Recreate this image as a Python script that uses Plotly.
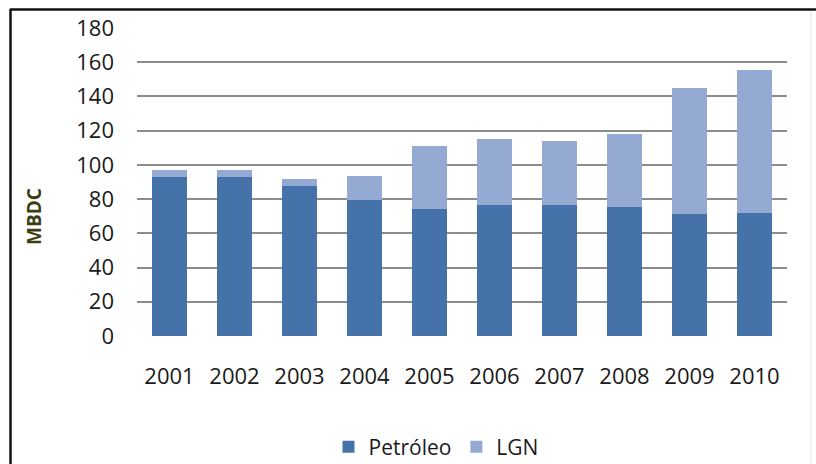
import plotly.graph_objects as go

# Producción de líquidos (miles de barriles diarios por día calendario)
years = ["2001", "2002", "2003", "2004", "2005", "2006", "2007", "2008", "2009", "2010"]
petroleo = [92.7, 92.7, 87.4, 79.6, 74.4, 76.3, 76.3, 75.5, 71.1, 72.0]
lgn = [4.3, 4.3, 4.1, 14.2, 36.5, 38.9, 37.7, 42.8, 73.8, 83.6]
y_ticks = [0, 20, 40, 60, 80, 100, 120, 140, 160, 180]

W, H = 816, 464
ML, MR, MT, MB = 137, 29, 28, 128
PW, PH = W - ML - MR, H - MT - MB


def px_x(p):
    return (p - ML) / PW


def px_y(p):
    return (H - MB - p) / PH


FONT = "Open Sans"

fig = go.Figure()
fig.add_trace(go.Bar(name="Petróleo", x=years, y=petroleo,
                     marker=dict(color="#4572A8", line=dict(width=0))))
fig.add_trace(go.Bar(name="LGN", x=years, y=lgn,
                     marker=dict(color="#94AAD2", line=dict(width=0))))

fig.update_layout(
    width=W, height=H,
    barmode="stack", bargap=0.45,
    margin=dict(l=ML, r=MR, t=MT, b=MB, pad=0, autoexpand=False),
    paper_bgcolor="white", plot_bgcolor="white",
    font=dict(family=FONT, size=22, color="#1a1a1a"),
    showlegend=True,
    legend=dict(orientation="h", xref="container", yref="container",
                x=436 / W, xanchor="center",
                y=1 - 447 / H, yanchor="middle",
                font=dict(family=FONT, size=21, color="#1a1a1a"),
                traceorder="normal", bgcolor="rgba(0,0,0,0)"),
    xaxis=dict(showgrid=False, zeroline=False, showline=False, automargin=False,
               ticks="", ticklabelstandoff=25,
               tickfont=dict(family=FONT, size=22, color="#1a1a1a")),
    yaxis=dict(range=[0, 180], tickvals=y_ticks, ticktext=[str(v) for v in y_ticks],
               showgrid=True, gridcolor="#8c8c8c", gridwidth=1.5, automargin=False,
               zeroline=False, showline=False, ticks="", ticklabelstandoff=22,
               tickfont=dict(family=FONT, size=22, color="#1a1a1a")),
)

# Axis title placed by hand next to the value labels
fig.add_annotation(text="<b>MBDC</b>", xref="paper", yref="paper",
                   x=px_x(34), y=px_y(217), textangle=-90, showarrow=False,
                   font=dict(family=FONT, size=19, color="#3d3d12"),
                   xanchor="center", yanchor="middle")

# Chart frame
fig.add_shape(type="line", xref="paper", yref="paper",
              x0=px_x(10), x1=px_x(816), y0=px_y(9.5), y1=px_y(9.5),
              line=dict(color="#111111", width=2.5))
fig.add_shape(type="line", xref="paper", yref="paper",
              x0=px_x(10.5), x1=px_x(10.5), y0=px_y(9), y1=px_y(464),
              line=dict(color="#111111", width=2.5))
fig.add_shape(type="line", xref="paper", yref="paper",
              x0=px_x(811), x1=px_x(811), y0=px_y(11), y1=px_y(464),
              line=dict(color="#e4e4e4", width=1))

fig.write_html("out.html")
